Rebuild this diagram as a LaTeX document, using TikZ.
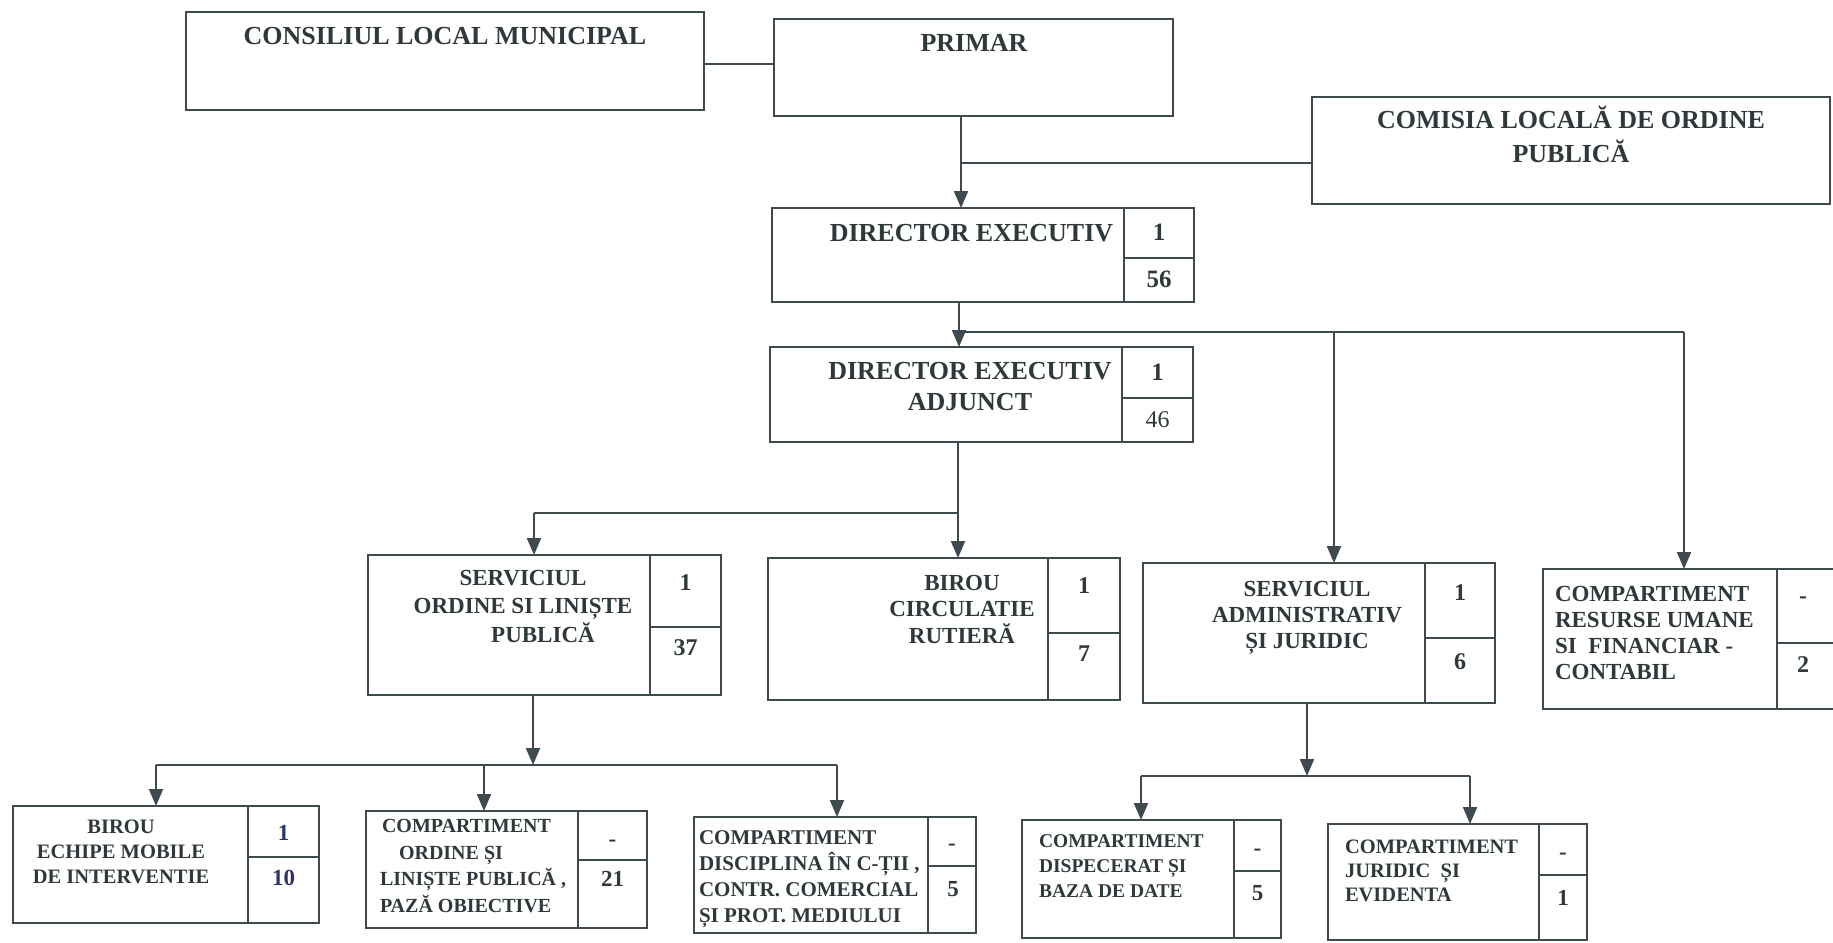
\documentclass[tikz,border=0pt]{standalone}
\usepackage{fontspec}
\setmainfont{Liberation Serif}
\usetikzlibrary{arrows.meta}
\definecolor{ink}{HTML}{3F4A4E}
\definecolor{txtc}{HTML}{2F393C}
\definecolor{navy}{HTML}{2E3566}
\tikzset{
  box/.style={draw=ink, line width=1.8pt, inner sep=0pt, outer sep=0pt, rectangle},
  fs/.style 2 args={font=\fontsize{#1}{#2}\selectfont\bfseries, text=txtc, inner sep=0pt, outer sep=0pt},
  ttl/.style={anchor=base, align=center},
  ttll/.style={anchor=base west, align=left},
  num/.style={text=txtc, inner sep=0pt, text height=0.66em, text depth=0pt, anchor=center},
  link/.style={draw=ink, line width=2pt},
  arr/.style={draw=ink, line width=2pt, -{Triangle[length=17pt,width=14pt]}}
}
\begin{document}
\begin{tikzpicture}[x=1pt,y=-1pt]
\clip (0,0) rectangle (1833,942);
\fill[white] (0,0) rectangle (1833,942);
\useasboundingbox (0,0) rectangle (1833,942);

% (multi-line text nodes are placed by the baseline of their LAST line)
% ---- top level
\node[box, minimum width=518pt, minimum height=98pt] (cons) at (445,61) {};
\node[fs={26}{34}, ttl] (cons-t) at (445,45) {CONSILIUL LOCAL MUNICIPAL};
\node[box, minimum width=399pt, minimum height=97pt] (prim) at (973.5,67.5) {};
\node[fs={26}{34}, ttl] (prim-t) at (974,52) {PRIMAR};
\node[box, minimum width=518pt, minimum height=107pt] (com) at (1571,150.5) {};
\node[fs={26}{34}, ttl] (com-t) at (1571,162) {COMISIA LOCALĂ DE ORDINE\\PUBLICĂ};

% ---- director executiv
\node[box, minimum width=352pt, minimum height=94pt] (de) at (948,255) {};
\node[box, minimum width=70pt, minimum height=50pt] (de-a) at (1159,233) {};
\node[box, minimum width=70pt, minimum height=44pt] (de-b) at (1159,280) {};
\node[fs={26}{34}, ttl] (de-t) at (971.5,241) {DIRECTOR EXECUTIV};
\node[fs={25}{30}, num] (de-n1) at (1159,237) {1};
\node[fs={25}{30}, num] (de-n2) at (1159,284) {56};

% ---- director executiv adjunct
\node[box, minimum width=352pt, minimum height=95pt] (dea) at (946,394.5) {};
\node[box, minimum width=71pt, minimum height=51pt] (dea-a) at (1157.5,372.5) {};
\node[box, minimum width=71pt, minimum height=44pt] (dea-b) at (1157.5,420) {};
\node[fs={26}{31}, ttl] (dea-t) at (970,410) {DIRECTOR EXECUTIV\\ADJUNCT};
\node[fs={25}{30}, num] (dea-n1) at (1157.5,377) {1};
\node[font=\fontsize{24}{30}\selectfont, num] (dea-n2) at (1157.5,424) {46};

% ---- middle row
\node[box, minimum width=282pt, minimum height=140pt] (solp) at (509,625) {};
\node[box, minimum width=71pt, minimum height=72pt] (solp-a) at (685.5,591) {};
\node[box, minimum width=71pt, minimum height=68pt] (solp-b) at (685.5,661) {};
\node[fs={23}{28.5}, ttl] (solp-t) at (523,642) {SERVICIUL\\ORDINE SI LINIȘTE\\\hspace*{40pt}PUBLICĂ};
\node[fs={24}{30}, num] (solp-n1) at (685.5,587) {1};
\node[fs={24}{30}, num] (solp-n2) at (685.5,652) {37};

\node[box, minimum width=280pt, minimum height=142pt] (bcr) at (908,629) {};
\node[box, minimum width=72pt, minimum height=75pt] (bcr-a) at (1084,595.5) {};
\node[box, minimum width=72pt, minimum height=67pt] (bcr-b) at (1084,666.5) {};
\node[fs={23}{26.5}, ttl] (bcr-t) at (962,643) {BIROU\\CIRCULATIE\\RUTIERĂ};
\node[fs={24}{30}, num] (bcr-n1) at (1084,590) {1};
\node[fs={24}{30}, num] (bcr-n2) at (1084,658) {7};

\node[box, minimum width=282pt, minimum height=140pt] (saj) at (1284,633) {};
\node[box, minimum width=70pt, minimum height=75pt] (saj-a) at (1460,600.5) {};
\node[box, minimum width=70pt, minimum height=65pt] (saj-b) at (1460,670.5) {};
\node[fs={23}{26}, ttl] (saj-t) at (1307,648) {SERVICIUL\\ADMINISTRATIV\\ȘI JURIDIC};
\node[fs={24}{30}, num] (saj-n1) at (1460,597) {1};
\node[fs={24}{30}, num] (saj-n2) at (1460,666) {6};

\node[box, minimum width=234pt, minimum height=140pt] (cru) at (1660,639) {};
\node[box, minimum width=70pt, minimum height=74pt] (cru-a) at (1812,606) {};
\node[box, minimum width=70pt, minimum height=66pt] (cru-b) at (1812,676) {};
\node[fs={23}{26}, ttll] (cru-t) at (1555,679) {COMPARTIMENT\\RESURSE UMANE\\SI~~FINANCIAR -\\CONTABIL};
\node[fs={24}{30}, num] (cru-n1) at (1803,600) {-};
\node[fs={24}{30}, num] (cru-n2) at (1803,669) {2};

% ---- bottom row
\node[box, minimum width=235pt, minimum height=117pt] (bemi) at (130.5,864.5) {};
\node[box, minimum width=71pt, minimum height=51pt] (bemi-a) at (283.5,831.5) {};
\node[box, minimum width=71pt, minimum height=66pt] (bemi-b) at (283.5,890) {};
\node[fs={20.5}{25}, ttl] (bemi-t) at (121,883) {BIROU\\ECHIPE MOBILE\\DE INTERVENTIE};
\node[fs={23}{30}, num, text=navy] (bemi-n1) at (283.5,837) {1};
\node[fs={23}{30}, num, text=navy] (bemi-n2) at (283.5,882) {10};

\node[box, minimum width=212pt, minimum height=117pt] (coslp) at (472,869.5) {};
\node[box, minimum width=69pt, minimum height=49pt] (coslp-a) at (612.5,835.5) {};
\node[box, minimum width=69pt, minimum height=68pt] (coslp-b) at (612.5,894) {};
\node[fs={20}{26.5}, ttll] (coslp-t) at (380,912) {\hspace*{2pt}COMPARTIMENT\\\hspace*{19pt}ORDINE ȘI\\LINIȘTE PUBLICĂ ,\\PAZĂ OBIECTIVE};
\node[fs={23}{30}, num] (coslp-n1) at (612.5,843) {-};
\node[fs={23}{30}, num] (coslp-n2) at (612.5,883) {21};

\node[box, minimum width=234pt, minimum height=116pt] (cdc) at (811,875) {};
\node[box, minimum width=48pt, minimum height=49pt] (cdc-a) at (952,841.5) {};
\node[box, minimum width=48pt, minimum height=67pt] (cdc-b) at (952,899.5) {};
\node[fs={21}{25.7}, ttll] (cdc-t) at (699,922) {COMPARTIMENT\\DISCIPLINA ÎN C-ȚII ,\\CONTR. COMERCIAL\\ȘI PROT. MEDIULUI};
\node[fs={23}{30}, num] (cdc-n1) at (952,847) {-};
\node[fs={23}{30}, num] (cdc-n2) at (953,893) {5};

\node[box, minimum width=212pt, minimum height=118pt] (cdb) at (1128,879) {};
\node[box, minimum width=47pt, minimum height=51pt] (cdb-a) at (1257.5,845.5) {};
\node[box, minimum width=47pt, minimum height=67pt] (cdb-b) at (1257.5,904.5) {};
\node[fs={19.5}{25}, ttll] (cdb-t) at (1039,897) {COMPARTIMENT\\DISPECERAT ȘI\\BAZA DE DATE};
\node[fs={23}{30}, num] (cdb-n1) at (1257.5,852) {-};
\node[fs={23}{30}, num] (cdb-n2) at (1257.5,897) {5};

\node[box, minimum width=211pt, minimum height=116pt] (cje) at (1433.5,882) {};
\node[box, minimum width=48pt, minimum height=51pt] (cje-a) at (1563,849.5) {};
\node[box, minimum width=48pt, minimum height=65pt] (cje-b) at (1563,907.5) {};
\node[fs={20.5}{24}, ttll] (cje-t) at (1345,901) {COMPARTIMENT\\JURIDIC~~ȘI\\EVIDENTA};
\node[fs={23}{30}, num] (cje-n1) at (1563,856) {-};
\node[fs={23}{30}, num] (cje-n2) at (1563,902) {1};

% ---- connectors
\coordinate (j0) at (0,64);
\draw[link] (cons.east |- j0) -- (prim.west |- j0);

\coordinate (j1) at (961,163);
\draw[arr] (prim.south -| j1) -- (de.north -| j1);
\draw[link] (j1) -- (j1 -| com.west);

\coordinate (j2) at (959,332);
\coordinate (s2) at (1334,332);
\coordinate (c2) at (1684,332);
\draw[arr] (de.south -| j2) -- (dea.north -| j2);
\draw[link] (j2) -- (c2);
\draw[arr] (s2) -- (saj.north -| s2);
\draw[arr] (c2) -- (cru.north -| c2);

\coordinate (j3) at (958,513);
\coordinate (s3) at (534,513);
\draw[arr] (dea.south -| j3) -- (bcr.north -| j3);
\draw[link] (j3) -- (s3);
\draw[arr] (s3) -- (solp.north -| s3);

\coordinate (j4) at (533,765);
\coordinate (b4) at (156,765);
\coordinate (m4) at (484,765);
\coordinate (c4) at (837,765);
\draw[arr] (solp.south -| j4) -- (j4);
\draw[link] (b4) -- (c4);
\draw[arr] (b4) -- (bemi.north -| b4);
\draw[arr] (m4) -- (coslp.north -| m4);
\draw[arr] (c4) -- (cdc.north -| c4);

\coordinate (j5) at (1307,776);
\coordinate (l5) at (1141,776);
\coordinate (r5) at (1470,776);
\draw[arr] (saj.south -| j5) -- (j5);
\draw[link] (l5) -- (r5);
\draw[arr] (l5) -- (cdb.north -| l5);
\draw[arr] (r5) -- (cje.north -| r5);
\end{tikzpicture}
\end{document}
